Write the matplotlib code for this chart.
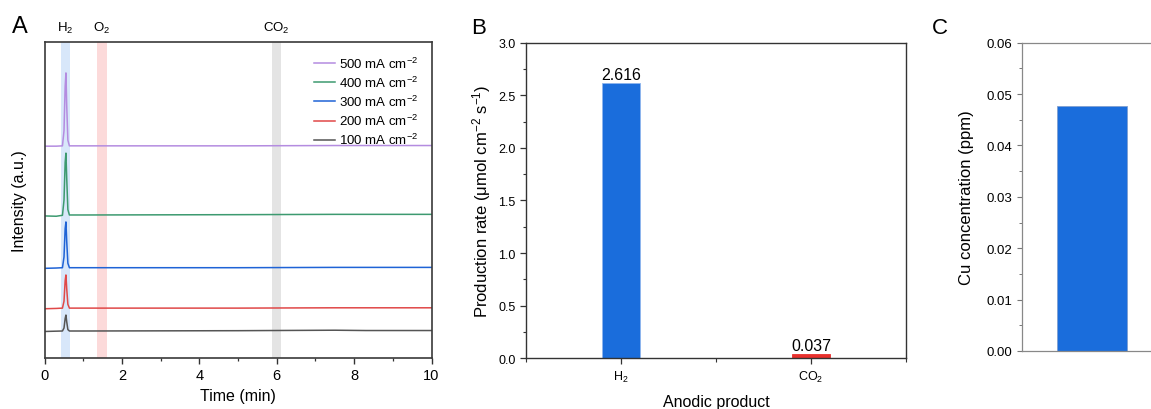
import numpy as np
import matplotlib
matplotlib.use("Agg")
import matplotlib.pyplot as plt
from matplotlib.ticker import MultipleLocator

plt.rcParams['font.family'] = ['Liberation Sans', 'DejaVu Sans']
plt.rcParams['mathtext.fontset'] = 'custom'
plt.rcParams['mathtext.rm'] = 'Liberation Sans'
plt.rcParams['mathtext.it'] = 'Liberation Sans'
plt.rcParams['mathtext.default'] = 'regular'

# ---- Panel A: chromatograms (time in min, stacked intensity in a.u.) ----
t = [0, 0.3, 0.46, 0.50, 0.53, 0.55, 0.57, 0.60, 0.64, 1.0, 5.0, 7.5, 8.3, 10]
trazas = {
    "100 mA cm$^{-2}$": [0.084, 0.085, 0.0855, 0.095, 0.125, 0.136, 0.115, 0.090, 0.0855, 0.0855, 0.0865, 0.088, 0.087, 0.087],
    "200 mA cm$^{-2}$": [0.156, 0.157, 0.158, 0.180, 0.245, 0.263, 0.220, 0.170, 0.158, 0.158, 0.158, 0.159, 0.159, 0.159],
    "300 mA cm$^{-2}$": [0.284, 0.285, 0.286, 0.320, 0.410, 0.431, 0.370, 0.300, 0.286, 0.286, 0.286, 0.287, 0.287, 0.287],
    "400 mA cm$^{-2}$": [0.450, 0.449, 0.452, 0.500, 0.620, 0.649, 0.570, 0.470, 0.453, 0.453, 0.454, 0.455, 0.455, 0.455],
    "500 mA cm$^{-2}$": [0.671, 0.671, 0.672, 0.720, 0.860, 0.903, 0.800, 0.690, 0.672, 0.672, 0.672, 0.673, 0.673, 0.673],
}
colores_trazas = ["#555555", "#e04848", "#1f63d6", "#3d9a70", "#b48ce0"]
bandas = [("H$_2$", 0.42, 0.65, "#d8e7fa"), ("O$_2$", 1.36, 1.60, "#fcdada"), ("CO$_2$", 5.88, 6.10, "#e4e4e4")]

# ---- Panel B: production rate ----
productos = ["H$_2$", "CO$_2$"]
tasas = [2.616, 0.037]
colores_barras = ["#1a6ddc", "#e8302c"]

# ---- Panel C: Cu concentration ----
cu_ppm = [0.0477]

fig = plt.figure(figsize=(11.51, 4.10), dpi=100)

# Panel A
axA = fig.add_axes([0.0388, 0.1244, 0.3361, 0.770])
for nombre, x0, x1, c in bandas:
    axA.axvspan(x0, x1, color=c, lw=0, zorder=0)
    axA.text((x0 + x1) / 2, 1.048, nombre, transform=axA.get_xaxis_transform(),
             ha='center', va='center', fontsize=9.5)
for (etq, vals), c in zip(trazas.items(), colores_trazas):
    axA.plot(t, vals, color=c, lw=1.1, label=etq)
handles, labels = axA.get_legend_handles_labels()
axA.legend(handles[::-1], labels[::-1], loc='upper right', frameon=False, fontsize=9.5,
           handlelength=1.6, handletextpad=0.3, labelspacing=0.3, borderaxespad=0.6)
axA.set_xlim(0, 10)
axA.set_ylim(0, 1)
axA.set_yticks([])
axA.xaxis.set_major_locator(MultipleLocator(2))
axA.xaxis.set_minor_locator(MultipleLocator(1))
axA.tick_params(axis='x', which='major', direction='out', length=4, width=1, labelsize=10.5, color='#333333')
axA.tick_params(axis='x', which='minor', direction='out', length=2.5, width=0.9, color='#333333')
for s in axA.spines.values():
    s.set_color('#3a3a3a')
    s.set_linewidth(1.2)
axA.set_xlabel("Time (min)", fontsize=11.5, labelpad=4)
axA.set_ylabel("Intensity (a.u.)", fontsize=11.5)
axA.yaxis.set_label_coords(-0.045, 0.5)

# Panel B
axB = fig.add_axes([0.457, 0.1237, 0.3301, 0.7697])
xs = [1, 2]
barras = axB.bar(xs, tasas, width=0.2, color=colores_barras, edgecolor='#8fb6ee', lw=0.6)
barras[1].set_edgecolor(colores_barras[1])
for x, v in zip(xs, tasas):
    axB.text(x, v + 0.01, f"{v:.3f}", ha='center', va='bottom', fontsize=11.5)
axB.set_xlim(0.5, 2.5)
axB.set_ylim(0, 3.0)
axB.set_xticks(xs)
axB.set_xticklabels(productos)
axB.xaxis.set_minor_locator(MultipleLocator(0.5))
axB.yaxis.set_major_locator(MultipleLocator(0.5))
axB.yaxis.set_minor_locator(MultipleLocator(0.25))
axB.tick_params(which='major', direction='out', length=4, width=0.9, labelsize=9, color='#333333')
axB.tick_params(which='minor', direction='out', length=2.5, width=0.8, color='#333333')
axB.tick_params(axis='x', which='minor', length=3)
for s in axB.spines.values():
    s.set_color('#333333')
    s.set_linewidth(1.0)
axB.set_xlabel("Anodic product", fontsize=11.5, labelpad=7)
axB.set_ylabel("Production rate (\u03bcmol cm$^{-2}$ s$^{-1}$)", fontsize=12)
axB.yaxis.set_label_coords(-0.087, 0.5)

# Panel C
axC = fig.add_axes([0.8877, 0.1415, 0.1216, 0.7519])
axC.bar([0.5], cu_ppm, width=0.5, color="#1a6ddc", edgecolor='#7f9fd0', lw=0.6)
axC.set_xlim(0, 1)
axC.set_ylim(0, 0.06)
axC.set_xticks([])
axC.yaxis.set_major_locator(MultipleLocator(0.01))
axC.yaxis.set_minor_locator(MultipleLocator(0.005))
axC.yaxis.set_major_formatter(matplotlib.ticker.FormatStrFormatter('%.2f'))
axC.tick_params(which='major', direction='out', length=3.5, width=0.8, labelsize=9.5, color='#777777')
axC.tick_params(which='minor', direction='out', length=2, width=0.7, color='#777777')
for s in axC.spines.values():
    s.set_color('#888888')
    s.set_linewidth(0.9)
axC.set_ylabel("Cu concentration (ppm)", fontsize=12)
axC.yaxis.set_label_coords(-0.34, 0.5)

# Panel letters
fig.text(20 / 1151, 1 - 27 / 410, "A", fontsize=17, ha='center', va='center')
fig.text(479 / 1151, 1 - 28 / 410, "B", fontsize=16, ha='center', va='center')
fig.text(940 / 1151, 1 - 28 / 410, "C", fontsize=16, ha='center', va='center')

fig.savefig("out.png", dpi=100)
